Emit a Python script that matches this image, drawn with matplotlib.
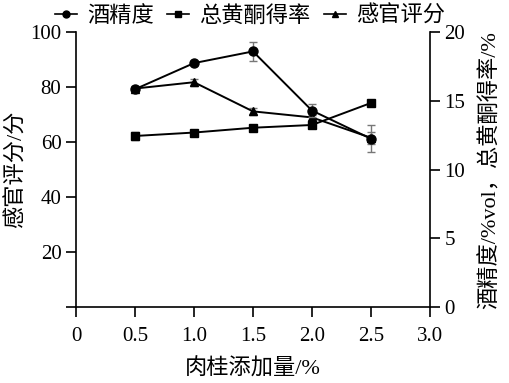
import matplotlib
matplotlib.use("Agg")
import matplotlib.pyplot as plt
from matplotlib.lines import Line2D

plt.rcParams['font.family'] = ['Liberation Serif', 'Noto Sans CJK SC']
plt.rcParams['axes.unicode_minus'] = False

x = [0.5, 1.0, 1.5, 2.0, 2.5]
alcohol = [15.85, 17.75, 18.6, 14.3, 12.25]          # 酒精度 %vol (right axis)
alcohol_err = [0.15, 0.12, 0.7, 0.5, 1.0]
flavonoid = [12.45, 12.7, 13.05, 13.25, 14.85]       # 总黄酮得率 % (right axis)
flavonoid_err = [0.3, 0.1, 0.1, 0.2, 0.15]
sensory = [79.5, 81.8, 71.2, 69.0, 61.6]              # 感官评分 (left axis)
sensory_err = [1.0, 1.3, 1.4, 1.0, 2.2]

xticks = [0, 0.5, 1.0, 1.5, 2.0, 2.5, 3.0]
xticklabels = ['0', '0.5', '1.0', '1.5', '2.0', '2.5', '3.0']
lticks = [0, 20, 40, 60, 80, 100]
lticklabels = ['', '20', '40', '60', '80', '100']
rticks = [0, 5, 10, 15, 20]

fig = plt.figure(figsize=(5.10, 3.83), dpi=100)
ax = fig.add_axes([0.149, 0.198, 0.694, 0.718])
ax2 = ax.twinx()

err_kw = dict(ecolor='#777777', elinewidth=1.0, capsize=3, capthick=1.0)
ax.errorbar(x, sensory, yerr=sensory_err, color='black', marker='^', ms=6,
            lw=1.4, **err_kw, zorder=3)
ax2.errorbar(x, alcohol, yerr=alcohol_err, color='black', marker='o', ms=6.5,
             lw=1.4, **err_kw, zorder=3)
ax2.errorbar(x, flavonoid, yerr=flavonoid_err, color='black', marker='s', ms=6,
             lw=1.4, **err_kw, zorder=3)

ax.set_xlim(0, 3.0)
ax.set_ylim(0, 100)
ax2.set_ylim(0, 20)
ax.set_xticks(xticks)
ax.set_xticklabels(xticklabels)
ax.set_yticks(lticks)
ax.set_yticklabels(lticklabels)
ax2.set_yticks(rticks)

for a in (ax, ax2):
    a.spines['top'].set_visible(False)
    for s in a.spines.values():
        s.set_linewidth(1.2)
    a.tick_params(direction='out', length=7, width=1.2, labelsize=15)
ax.tick_params(axis='x', pad=7)
ax.spines['right'].set_visible(False)
ax2.spines['left'].set_visible(False)
ax2.spines['bottom'].set_visible(False)

ax.set_xlabel('肉桂添加量/%', fontsize=16, labelpad=9)
ax.set_ylabel('感官评分/分', fontsize=16)
ax.yaxis.set_label_coords(-0.14, 0.5)
ax2.set_ylabel('酒精度/%vol，总黄酮得率/%', fontsize=16)
ax2.yaxis.set_label_coords(1.14, 0.5)

handles = [
    Line2D([], [], color='black', marker='o', ms=5, lw=1.2),
    Line2D([], [], color='black', marker='s', ms=5, lw=1.2),
    Line2D([], [], color='black', marker='^', ms=5, lw=1.2),
]
fig.legend(handles, ['酒精度', '总黄酮得率', '感官评分'], loc='center',
           bbox_to_anchor=(0.49, 0.958), ncol=3, frameon=False, fontsize=16,
           handlelength=1.0, handletextpad=0.45, columnspacing=0.6,
           borderpad=0.1)

fig.savefig('out.png', dpi=100)
